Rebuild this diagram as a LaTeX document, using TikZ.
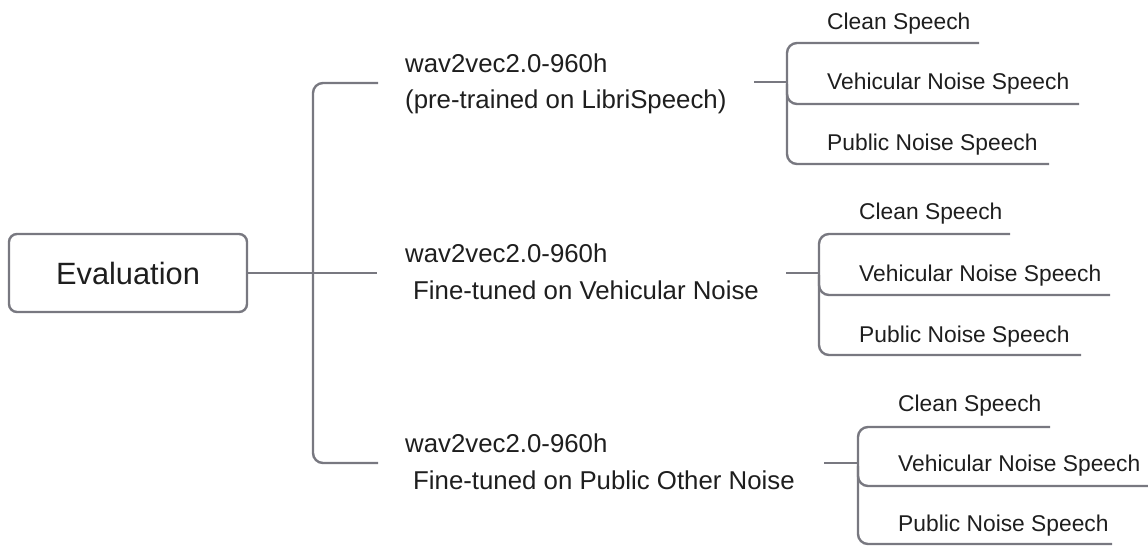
\documentclass[tikz,border=0pt]{standalone}
\usepackage{fontspec}
\setmainfont{Liberation Sans}
\definecolor{linegray}{RGB}{120,120,128}
\definecolor{txt}{RGB}{30,30,30}

\begin{document}
\begin{tikzpicture}[x=1pt,y=-1pt,
  conn/.style={draw=linegray, line width=2.4pt},
  bracket/.style={conn, rounded corners=10pt},
  rootbox/.style={draw=linegray, line width=2.4pt, rounded corners=8pt,
    minimum width=238pt, minimum height=78pt, inner sep=0pt,
    font=\fontsize{30.8}{36}\selectfont, text=txt},
  midlabel/.style={font=\fontsize{25.8}{30}\selectfont, text=txt,
    anchor=base west, inner sep=0pt},
  leaf/.style={font=\fontsize{22.8}{27}\selectfont, text=txt,
    anchor=base west, inner sep=0pt}]
\useasboundingbox (0,0) rectangle (1148,547);

% root
\node[rootbox] (root) at (128,273) {Evaluation};

% middle level
\node[midlabel] (m1a) at (405,72)  {wav2vec2.0-960h};
\node[midlabel] (m1b) at (405,108) {(pre-trained on LibriSpeech)};
\node[midlabel] (m2a) at (405,262) {wav2vec2.0-960h};
\node[midlabel] (m2b) at (413,299) {Fine-tuned on Vehicular Noise};
\node[midlabel] (m3a) at (405,452) {wav2vec2.0-960h};
\node[midlabel] (m3b) at (413,489) {Fine-tuned on Public Other Noise};

% main bracket
\coordinate (t1) at (378,83);
\coordinate (t2) at (377,273);
\coordinate (t3) at (378,463);
\draw[conn] (root.east) -- (t2);
\draw[bracket] (t1) -- (313,83) -- (313,463) -- (t3);

% group 1
\node[leaf] (g1a) at (827,29)  {Clean Speech};
\node[leaf] (g1b) at (827,89)  {Vehicular Noise Speech};
\node[leaf] (g1c) at (827,150) {Public Noise Speech};
\coordinate (g1s) at (754,82);
\coordinate (g1j) at (787,82);
\coordinate (g1ae) at (979,43);
\coordinate (g1be) at (1079,104);
\coordinate (g1ce) at (1049,164);
\draw[conn] (g1s) -- (g1j);
\draw[bracket] (g1ae) -- (787,43) -- (787,164) -- (g1ce);
\draw[bracket] (787,84) -- (787,104) -- (g1be);

% group 2
\node[leaf] (g2a) at (859,219) {Clean Speech};
\node[leaf] (g2b) at (859,281) {Vehicular Noise Speech};
\node[leaf] (g2c) at (859,342) {Public Noise Speech};
\coordinate (g2s) at (786,273);
\coordinate (g2j) at (819,273);
\coordinate (g2ae) at (1010,234);
\coordinate (g2be) at (1110,295);
\coordinate (g2ce) at (1081,355);
\draw[conn] (g2s) -- (g2j);
\draw[bracket] (g2ae) -- (819,234) -- (819,355) -- (g2ce);
\draw[bracket] (819,275) -- (819,295) -- (g2be);

% group 3
\node[leaf] (g3a) at (898,411) {Clean Speech};
\node[leaf] (g3b) at (898,471) {Vehicular Noise Speech};
\node[leaf] (g3c) at (898,531) {Public Noise Speech};
\coordinate (g3s) at (824,463);
\coordinate (g3j) at (858,463);
\coordinate (g3ae) at (1050,427);
\coordinate (g3be) at (1148,486);
\coordinate (g3ce) at (1112,544);
\draw[conn] (g3s) -- (g3j);
\draw[bracket] (g3ae) -- (858,427) -- (858,544) -- (g3ce);
\draw[bracket] (858,466) -- (858,486) -- (g3be);
\end{tikzpicture}
\end{document}
